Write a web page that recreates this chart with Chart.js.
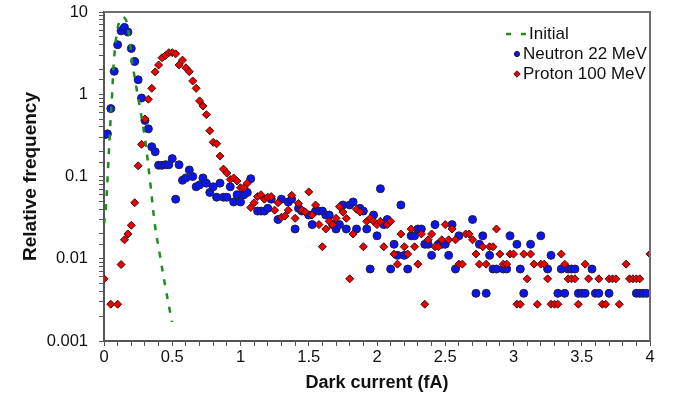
<!DOCTYPE html>
<html>
<head>
<meta charset="utf-8">
<script src="https://cdn.jsdelivr.net/npm/chart.js@4/dist/chart.umd.min.js"></script>
<style>
  html, body { margin: 0; padding: 0; background: #fff; }
</style>
</head>
<body>
<canvas id="grafico" width="674" height="402"></canvas>
<script>
// Initial distribution (dashed curve) [dark current fA, relative frequency]
const initialCurve = [
  [0, 0.0264], [0.015, 0.045], [0.029, 0.12], [0.044, 0.37], [0.059, 0.98],
  [0.073, 2.6], [0.095, 5.7], [0.117, 8.0], [0.139, 8.7], [0.161, 8.0],
  [0.183, 5.25], [0.205, 2.6], [0.234, 1.3], [0.264, 0.68], [0.3, 0.29],
  [0.337, 0.09], [0.374, 0.025], [0.41, 0.011], [0.447, 0.0048], [0.484, 0.00225],
  [0.498, 0.0017]
];

// Neutron 22 MeV
const neutronPoints = [
  [0, 0.32], [0.025, 0.33], [0.05, 0.67], [0.075, 1.9], [0.1, 4.0], [0.125, 5.9],
  [0.15, 6.5], [0.175, 5.7], [0.2, 3.6], [0.225, 2.5], [0.25, 1.5], [0.275, 0.9],
  [0.3, 0.48], [0.325, 0.38], [0.35, 0.23], [0.375, 0.2], [0.4, 0.137], [0.425, 0.137],
  [0.45, 0.139], [0.475, 0.139], [0.5, 0.165], [0.525, 0.053], [0.55, 0.139], [0.575, 0.09],
  [0.6, 0.096], [0.625, 0.12], [0.65, 0.1], [0.675, 0.075], [0.7, 0.079], [0.725, 0.096],
  [0.75, 0.083], [0.775, 0.064], [0.8, 0.075], [0.825, 0.056], [0.85, 0.083], [0.875, 0.056],
  [0.9, 0.056], [0.925, 0.075], [0.95, 0.049], [0.975, 0.06], [1.0, 0.049], [1.025, 0.06],
  [1.05, 0.064], [1.075, 0.094], [1.125, 0.038], [1.15, 0.038], [1.175, 0.038], [1.2, 0.041],
  [1.225, 0.053], [1.275, 0.03], [1.3, 0.053], [1.35, 0.049], [1.375, 0.053], [1.4, 0.023],
  [1.425, 0.041], [1.45, 0.038], [1.5, 0.034], [1.525, 0.026], [1.55, 0.038], [1.575, 0.038],
  [1.6, 0.038], [1.625, 0.034], [1.65, 0.034], [1.675, 0.026], [1.7, 0.023], [1.725, 0.026],
  [1.75, 0.045], [1.775, 0.023], [1.8, 0.045], [1.825, 0.049], [1.85, 0.023], [1.875, 0.041],
  [1.9, 0.038], [1.925, 0.023], [1.95, 0.0075], [1.975, 0.034], [2.0, 0.019], [2.025, 0.071],
  [2.05, 0.026], [2.075, 0.03], [2.1, 0.0075], [2.125, 0.015], [2.15, 0.011], [2.175, 0.045],
  [2.2, 0.011], [2.225, 0.0075], [2.25, 0.019], [2.275, 0.019], [2.3, 0.023], [2.325, 0.023],
  [2.35, 0.015], [2.375, 0.015], [2.4, 0.011], [2.425, 0.026], [2.45, 0.015], [2.475, 0.015],
  [2.5, 0.015], [2.525, 0.011], [2.55, 0.026], [2.575, 0.0075], [2.6, 0.019], [2.7, 0.03],
  [2.725, 0.0038], [2.75, 0.015], [2.775, 0.019], [2.8, 0.0038], [2.825, 0.011], [2.85, 0.0075],
  [2.875, 0.0075], [2.925, 0.0075], [2.95, 0.0075], [2.975, 0.019], [3.025, 0.015], [3.05, 0.0075],
  [3.075, 0.0038], [3.125, 0.015], [3.2, 0.019], [3.25, 0.0075], [3.275, 0.011], [3.325, 0.0038],
  [3.35, 0.0075], [3.375, 0.0038], [3.4, 0.0075], [3.425, 0.0075], [3.45, 0.0075], [3.475, 0.0038],
  [3.5, 0.0038], [3.525, 0.0038], [3.575, 0.0075], [3.6, 0.0038], [3.625, 0.0038], [3.7, 0.0038],
  [3.9, 0.0038], [3.925, 0.0038], [3.95, 0.0038], [3.975, 0.0038]
];

// Proton 100 MeV
const protonPoints = [
  [0, 0.0057], [0.05, 0.0028], [0.1, 0.0028], [0.125, 0.0085], [0.15, 0.017], [0.175, 0.02],
  [0.2, 0.0255], [0.225, 0.048], [0.25, 0.135], [0.275, 0.246], [0.3, 0.5], [0.325, 0.87],
  [0.35, 1.18], [0.375, 1.87], [0.4, 2.27], [0.425, 2.78], [0.45, 2.95], [0.475, 3.2],
  [0.5, 3.2], [0.525, 3.1], [0.55, 2.27], [0.575, 2.6], [0.6, 2.1], [0.625, 1.88],
  [0.65, 1.45], [0.675, 1.18], [0.7, 0.83], [0.725, 0.72], [0.75, 0.565], [0.775, 0.36],
  [0.8, 0.26], [0.825, 0.25], [0.85, 0.177], [0.875, 0.123], [0.9, 0.11], [0.925, 0.092],
  [0.95, 0.096], [0.975, 0.088], [1.0, 0.073], [1.025, 0.073], [1.05, 0.083], [1.075, 0.042],
  [1.1, 0.048], [1.125, 0.057], [1.15, 0.06], [1.175, 0.053], [1.2, 0.056], [1.225, 0.057],
  [1.25, 0.039], [1.275, 0.048], [1.3, 0.032], [1.325, 0.033], [1.35, 0.039], [1.375, 0.059],
  [1.4, 0.031], [1.425, 0.047], [1.45, 0.039], [1.475, 0.037], [1.5, 0.065], [1.525, 0.034],
  [1.55, 0.045], [1.575, 0.026], [1.6, 0.014], [1.625, 0.023], [1.65, 0.0285], [1.675, 0.026],
  [1.7, 0.031], [1.725, 0.043], [1.75, 0.037], [1.775, 0.031], [1.8, 0.0057], [1.825, 0.02],
  [1.85, 0.04], [1.875, 0.037], [1.9, 0.014], [1.925, 0.0285], [1.95, 0.031], [1.975, 0.0285],
  [2.0, 0.026], [2.025, 0.0285], [2.05, 0.014], [2.075, 0.026], [2.1, 0.0285], [2.125, 0.0114],
  [2.15, 0.0086], [2.175, 0.02], [2.2, 0.014], [2.225, 0.0114], [2.25, 0.023], [2.275, 0.014],
  [2.3, 0.0086], [2.325, 0.02], [2.35, 0.0028], [2.375, 0.017], [2.4, 0.02], [2.425, 0.014],
  [2.45, 0.014], [2.475, 0.017], [2.5, 0.026], [2.525, 0.017], [2.55, 0.023], [2.575, 0.017],
  [2.6, 0.0086], [2.625, 0.0086], [2.65, 0.02], [2.675, 0.02], [2.7, 0.017], [2.725, 0.0114],
  [2.75, 0.0086], [2.775, 0.014], [2.8, 0.0086], [2.825, 0.014], [2.85, 0.014], [2.875, 0.023],
  [2.9, 0.0114], [2.925, 0.0086], [2.95, 0.0086], [2.975, 0.0114], [3.0, 0.0114], [3.025, 0.0028],
  [3.05, 0.0028], [3.075, 0.0114], [3.1, 0.0057], [3.125, 0.0114], [3.15, 0.0086], [3.175, 0.0028],
  [3.2, 0.0086], [3.225, 0.0086], [3.25, 0.0057], [3.275, 0.0028], [3.3, 0.0028], [3.325, 0.0028],
  [3.35, 0.0114], [3.375, 0.0086], [3.4, 0.0057], [3.425, 0.0057], [3.45, 0.0057], [3.475, 0.0028],
  [3.525, 0.0086], [3.55, 0.0057], [3.625, 0.0057], [3.65, 0.0028], [3.675, 0.0028], [3.7, 0.0057],
  [3.725, 0.0057], [3.75, 0.0057], [3.775, 0.0028], [3.825, 0.0086], [3.85, 0.0057], [3.875, 0.0057],
  [3.9, 0.0057], [3.925, 0.0057], [4.0, 0.0114]
];

const yTickLabels = ['0.001', '0.01', '0.1', '1', '10'];
const legendas = ['Initial', 'Neutron 22 MeV', 'Proton 100 MeV'];

const fonte = "'Liberation Sans', Arial, sans-serif";
const toXY = p => ({ x: p[0], y: p[1] });

const moldura = {
  id: 'moldura',
  afterDraw(chart) {
    const { ctx, chartArea: a } = chart;
    ctx.save();
    // top and right frame
    ctx.strokeStyle = '#6e6e6e';
    ctx.lineWidth = 2;
    ctx.beginPath();
    ctx.moveTo(a.left, a.top);
    ctx.lineTo(a.right, a.top);
    ctx.lineTo(a.right, a.bottom);
    ctx.stroke();

    // legend inside the plot
    const ds = chart.data.datasets;
    const lx = 517, tx = 523;
    const ys = [34, 54, 74];
    ctx.font = '17px ' + fonte;
    ctx.fillStyle = '#111';
    ctx.textBaseline = 'middle';
    ctx.textAlign = 'left';

    ctx.strokeStyle = ds[0].borderColor;
    ctx.lineWidth = 2.5;
    ctx.beginPath();
    ctx.moveTo(506, ys[0]); ctx.lineTo(511, ys[0]);
    ctx.moveTo(521, ys[0]); ctx.lineTo(526, ys[0]);
    ctx.stroke();
    ctx.fillText(legendas[0], 529, ys[0]);

    ctx.fillStyle = ds[1].backgroundColor;
    ctx.strokeStyle = ds[1].borderColor;
    ctx.lineWidth = 1;
    ctx.beginPath();
    ctx.arc(lx, ys[1], 2.6, 0, Math.PI * 2);
    ctx.fill(); ctx.stroke();

    ctx.fillStyle = ds[2].backgroundColor;
    ctx.strokeStyle = ds[2].borderColor;
    ctx.beginPath();
    ctx.moveTo(lx, ys[2] - 3.2); ctx.lineTo(lx + 3.2, ys[2]);
    ctx.lineTo(lx, ys[2] + 3.2); ctx.lineTo(lx - 3.2, ys[2]);
    ctx.closePath();
    ctx.fill(); ctx.stroke();

    ctx.fillStyle = '#111';
    ctx.fillText(legendas[1], tx, ys[1]);
    ctx.fillText(legendas[2], tx, ys[2]);
    ctx.restore();
  }
};

const data = {
  datasets: [{
    label: legendas[0],
    type: 'line',
    data: initialCurve.map(toXY),
    borderColor: '#1e8c1e',
    borderWidth: 2.5,
    borderDash: [6, 8],
    pointRadius: 0,
    tension: 0.35,
    fill: false,
    order: 0
  }, {
    label: legendas[1],
    data: neutronPoints.map(toXY),
    pointStyle: 'circle',
    pointRadius: 4,
    backgroundColor: '#0a14f5',
    borderColor: '#20203a',
    borderWidth: 1,
    order: 2
  }, {
    label: legendas[2],
    data: protonPoints.map(toXY),
    pointStyle: 'rectRot',
    pointRadius: 4,
    backgroundColor: '#f00000',
    borderColor: '#3a1010',
    borderWidth: 1,
    order: 1
  }]
};

const config = {
  type: 'scatter',
  data: data,
  options: {
    responsive: false,
    animation: false,
    devicePixelRatio: 1,
    layout: { padding: { left: 0, top: 12, right: 24, bottom: 0 } },
    plugins: {
      legend: { display: false },
      tooltip: { enabled: false }
    },
    scales: {
      x: {
        type: 'linear',
        min: 0,
        max: 4,
        afterFit(s) { s.height = 61; s.paddingLeft = 0; s.paddingRight = 0; },
        ticks: {
          stepSize: 0.1,
          autoSkip: false,
          maxRotation: 0,
          padding: 2,
          color: '#111',
          font: { family: fonte, size: 16.5 },
          callback: v => {
            const d = Math.round(v * 10);
            return d % 5 === 0 ? String(d / 10) : '';
          }
        },
        grid: { drawOnChartArea: false, tickLength: 5, color: '#555', lineWidth: 1 },
        border: { color: '#555', width: 2 },
        title: {
          display: true,
          text: 'Dark current (fA)',
          color: '#111',
          font: { family: fonte, size: 18, weight: 'bold' },
          padding: { top: 0, bottom: 8 }
        }
      },
      y: {
        type: 'logarithmic',
        min: 0.001,
        max: 10,
        afterFit(s) { s.width = 104; s.paddingTop = 0; s.paddingBottom = 0; },
        ticks: {
          autoSkip: false,
          padding: 11,
          color: '#111',
          font: { family: fonte, size: 16.5 },
          callback: v => {
            const l = Math.log10(v);
            const r = Math.round(l);
            return Math.abs(l - r) < 1e-6 ? yTickLabels[r + 3] : '';
          }
        },
        grid: { drawOnChartArea: false, tickLength: 5, color: '#555', lineWidth: 1 },
        border: { color: '#555', width: 2 },
        title: {
          display: true,
          text: 'Relative frequency',
          color: '#111',
          font: { family: fonte, size: 19, weight: 'bold' },
          padding: { top: 19, bottom: 0 }
        }
      }
    }
  },
  plugins: [moldura]
};

const grafico = new Chart(document.getElementById('grafico'), config);
</script>
</body>
</html>
